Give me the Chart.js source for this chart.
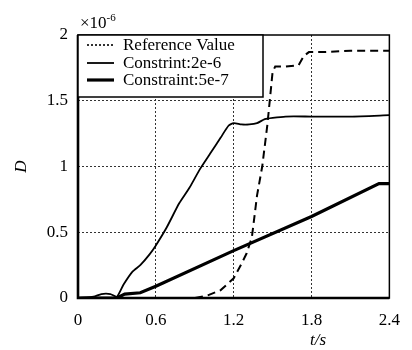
<!DOCTYPE html>
<html>
<head>
<meta charset="utf-8">
<script src="https://cdn.jsdelivr.net/npm/chart.js@4/dist/chart.umd.min.js"></script>
<style>
  html, body { margin: 0; padding: 0; background: #fff; }
  #wrap { width: 412px; height: 350px; position: relative; }
</style>
</head>
<body>
<div id="wrap"><canvas id="c"></canvas></div>
<script>
// 축 눈금
const xTicks = [0, 0.6, 1.2, 1.8, 2.4];
const yTicks = [0, 0.5, 1, 1.5, 2];

// Reference Value (dashed)
const refT = [0, 0.9, 1.0, 1.1, 1.2, 1.26, 1.3, 1.34, 1.38, 1.42, 1.46, 1.5, 1.52, 1.6, 1.7, 1.74, 1.78, 1.9, 2.1, 2.4];
const refD = [0, 0, 0.02, 0.06, 0.15, 0.26, 0.34, 0.46, 0.78, 1.0, 1.32, 1.72, 1.76, 1.76, 1.77, 1.84, 1.87, 1.87, 1.88, 1.88];

// Constrint:2e-6 (thin)
const c1T = [0, 0.12, 0.18, 0.25, 0.3, 0.35, 0.42, 0.48, 0.55, 0.6, 0.68, 0.78, 0.86, 0.94, 1.02, 1.1, 1.16, 1.2, 1.26, 1.32, 1.38, 1.44, 1.5, 1.6, 1.8, 2.1, 2.4];
const c1D = [0, 0.01, 0.03, 0.03, 0.01, 0.1, 0.2, 0.25, 0.33, 0.4, 0.53, 0.72, 0.84, 0.98, 1.1, 1.22, 1.31, 1.33, 1.32, 1.32, 1.33, 1.36, 1.37, 1.38, 1.38, 1.38, 1.39];

// Constraint:5e-7 (thick)
const c2T = [0, 0.3, 0.36, 0.48, 0.6, 1.2, 1.8, 2.32, 2.4];
const c2D = [0, 0, 0.03, 0.04, 0.09, 0.36, 0.62, 0.87, 0.87];

const labels = ["Reference Value", "Constrint:2e-6", "Constraint:5e-7"];

const pts = (t, d) => t.map((v, i) => ({ x: v, y: d[i] }));
const SERIF = "'Liberation Serif', 'DejaVu Serif', serif";

// 테두리, 범례, 단위 표기
const decor = {
  id: "decor",
  afterDraw(chart) {
    const { ctx, chartArea: a } = chart;
    ctx.save();
    ctx.strokeStyle = "#000";
    ctx.lineWidth = 1.5;
    ctx.strokeRect(a.left, a.top, a.right - a.left, a.bottom - a.top);
    ctx.lineWidth = 2.6;
    ctx.beginPath();
    ctx.moveTo(a.left, a.top);
    ctx.lineTo(a.left, a.bottom);
    ctx.lineTo(a.right, a.bottom);
    ctx.stroke();

    // legend box
    const bx = a.left, by = a.top, bw = 185, bh = 62;
    ctx.fillStyle = "#fff";
    ctx.fillRect(bx, by, bw, bh);
    ctx.lineWidth = 1.5;
    ctx.strokeRect(bx, by, bw, bh);
    const rows = [10, 28, 45];
    const styles = [
      { w: 1.6, dash: [2, 2] },
      { w: 1.8, dash: [] },
      { w: 3.2, dash: [] }
    ];
    ctx.font = "17px " + SERIF;
    ctx.textBaseline = "middle";
    ctx.fillStyle = "#000";
    rows.forEach((dy, i) => {
      ctx.lineWidth = styles[i].w;
      ctx.setLineDash(styles[i].dash);
      ctx.beginPath();
      ctx.moveTo(bx + 9, by + dy);
      ctx.lineTo(bx + 36, by + dy);
      ctx.stroke();
      ctx.setLineDash([]);
      ctx.fillText(labels[i], bx + 45, by + dy + 1);
    });

    // ×10^-6
    ctx.textBaseline = "alphabetic";
    ctx.font = "17px " + SERIF;
    ctx.fillText("×10", a.left + 2, 28);
    const w = ctx.measureText("×10").width;
    ctx.font = "11px " + SERIF;
    ctx.fillText("-6", a.left + 2 + w, 21);

    // axis titles
    ctx.font = "italic 17px " + SERIF;
    ctx.textAlign = "center";
    ctx.fillText("t/s", 318, 345);
    ctx.translate(22, (a.top + a.bottom) / 2);
    ctx.rotate(-Math.PI / 2);
    ctx.textBaseline = "middle";
    ctx.fillText("D", 0, 0);
    ctx.restore();
  }
};

new Chart(document.getElementById("c"), {
  type: "line",
  data: {
    datasets: [
      { label: labels[0], data: pts(refT, refD), borderColor: "#000", borderWidth: 2, borderDash: [8, 5], pointRadius: 0, tension: 0 },
      { label: labels[1], data: pts(c1T, c1D), borderColor: "#000", borderWidth: 1.8, pointRadius: 0, tension: 0.2 },
      { label: labels[2], data: pts(c2T, c2D), borderColor: "#000", borderWidth: 3.2, pointRadius: 0, tension: 0 }
    ]
  },
  options: {
    responsive: true,
    maintainAspectRatio: false,
    animation: false,
    layout: { padding: { top: 35, right: 15, left: 0, bottom: 0 } },
    plugins: { legend: { display: false }, tooltip: { enabled: false } },
    scales: {
      x: {
        type: "linear", min: 0, max: 2.4,
        afterBuildTicks: (s) => { s.ticks = xTicks.map(v => ({ value: v })); },
        afterFit: (s) => { s.height = 52; },
        ticks: { color: "#000", font: { family: SERIF, size: 17 }, padding: 12, callback: (v) => String(v), maxRotation: 0 },
        grid: {
          color: (c) => (c.tick && (c.tick.value === 0 || c.tick.value === 2.4)) ? "rgba(0,0,0,0)" : "#333",
          lineWidth: 1, drawTicks: false
        },
        border: { display: false, dash: [2, 2] }
      },
      y: {
        type: "linear", min: 0, max: 2,
        afterBuildTicks: (s) => { s.ticks = yTicks.map(v => ({ value: v })); },
        afterFit: (s) => { s.width = 78; },
        ticks: { color: "#000", font: { family: SERIF, size: 17 }, padding: 10, callback: (v) => String(v) },
        grid: {
          color: (c) => (c.tick && (c.tick.value === 0 || c.tick.value === 2)) ? "rgba(0,0,0,0)" : "#333",
          lineWidth: 1, drawTicks: false
        },
        border: { display: false, dash: [2, 2] }
      }
    }
  },
  plugins: [decor]
});
</script>
</body>
</html>
